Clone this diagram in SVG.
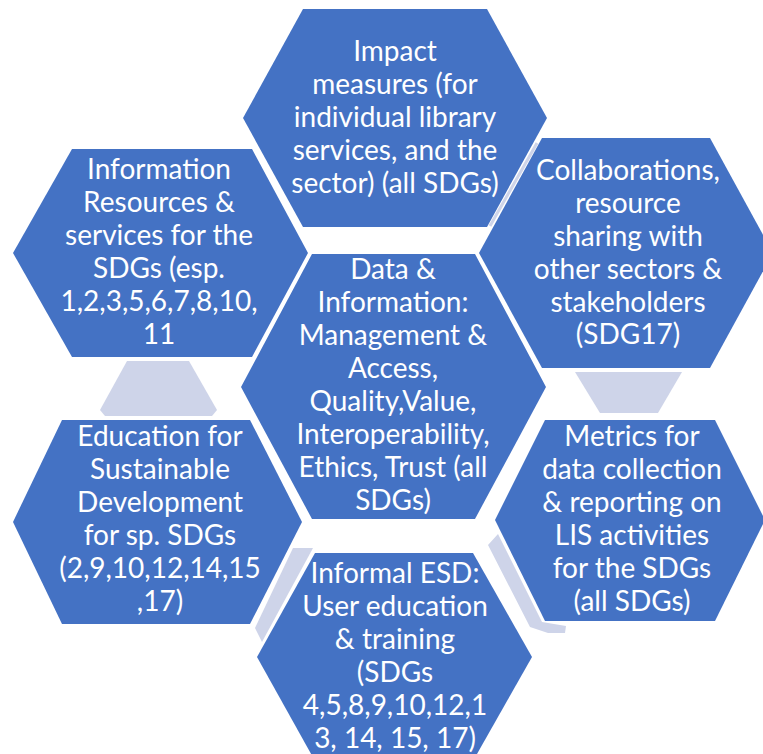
<svg xmlns="http://www.w3.org/2000/svg" width="763" height="754" viewBox="0 0 763 754">
<style>
.hex{fill:#4472C4}
.grey{fill:#CED4E9}
.t{font-family:Lato,"Liberation Sans",sans-serif;font-size:28px;fill:#FFFFFF;text-anchor:middle}
</style>
<rect width="763" height="754" fill="#FFFFFF"/>
<g id="connectors">
<polygon class="grey" points="127,361 189,361 217,410 212,416 105,416 100,410"/>
<polygon class="grey" points="575,372 682,372 658,413 600,413"/>
<polygon class="grey" points="488,545 498,534 542,622 566,626 565,633 548,633 530,627"/>
<polygon class="grey" points="293,548 313,548 262,642 255,628"/>
<line x1="537" y1="143" x2="490" y2="226" stroke="#CED4E9" stroke-width="3"/>
</g>
<g id="impact">
<polygon class="hex" points="303,9 487,9 547,118 487,227 303,227 243,118"/>
<text class="t"><tspan x="395" y="61">Impact</tspan><tspan x="395" y="94">measures (for</tspan><tspan x="395" y="127">individual library</tspan><tspan x="395" y="160">services, and the</tspan><tspan x="395" y="193">sector) (all SDGs)</tspan></text>
</g>
<g id="information">
<polygon class="hex" points="72,149 252,149 308,253 252,357 72,357 13,253"/>
<text class="t"><tspan x="159" y="179">Information</tspan><tspan x="159" y="212">Resources &amp;</tspan><tspan x="159" y="245">services for the</tspan><tspan x="159" y="278">SDGs (esp.</tspan><tspan x="159" y="311">1,2,3,5,6,7,8,10,</tspan><tspan x="159" y="344">11</tspan></text>
</g>
<g id="collaborations">
<polygon class="hex" points="542,138 710,138 773,253 710,368 542,368 479,253"/>
<text class="t"><tspan x="628" y="180">Collaborations,</tspan><tspan x="628" y="213">resource</tspan><tspan x="628" y="246">sharing with</tspan><tspan x="628" y="279">other sectors &amp;</tspan><tspan x="628" y="312">stakeholders</tspan><tspan x="628" y="344">(SDG17)</tspan></text>
</g>
<g id="data">
<polygon class="hex" points="312,254 475,254 546,387 475,519 312,519 241,387"/>
<text class="t"><tspan x="393" y="279">Data &amp;</tspan><tspan x="393" y="312">Information:</tspan><tspan x="393" y="345">Management &amp;</tspan><tspan x="393" y="378">Access,</tspan><tspan x="393" y="411">Quality,Value,</tspan><tspan x="393" y="444">Interoperability,</tspan><tspan x="393" y="477">Ethics, Trust (all</tspan><tspan x="393" y="510">SDGs)</tspan></text>
</g>
<g id="education">
<polygon class="hex" points="62,420 250,420 302,522 250,624 62,624 13,522"/>
<text class="t"><tspan x="160" y="446">Education for</tspan><tspan x="160" y="479">Sustainable</tspan><tspan x="160" y="512">Development</tspan><tspan x="160" y="545">for sp. SDGs</tspan><tspan x="160" y="578">(2,9,10,12,14,15</tspan><tspan x="160" y="611">,17)</tspan></text>
</g>
<g id="metrics">
<polygon class="hex" points="545,420 715,420 765,520 715,621 545,621 495,520"/>
<text class="t"><tspan x="632" y="446">Metrics for</tspan><tspan x="632" y="479">data collection</tspan><tspan x="632" y="512">&amp; reporting on</tspan><tspan x="632" y="545">LIS activities</tspan><tspan x="632" y="578">for the SDGs</tspan><tspan x="632" y="611">(all SDGs)</tspan></text>
</g>
<g id="informal">
<polygon class="hex" points="315,553 473,553 532,657 473,761 315,761 257,657"/>
<text class="t"><tspan x="395" y="583">Informal ESD:</tspan><tspan x="395" y="616">User education</tspan><tspan x="395" y="649">&amp; training</tspan><tspan x="395" y="682">(SDGs</tspan><tspan x="395" y="715">4,5,8,9,10,12,1</tspan><tspan x="395" y="748">3, 14, 15, 17)</tspan></text>
</g>
</svg>
